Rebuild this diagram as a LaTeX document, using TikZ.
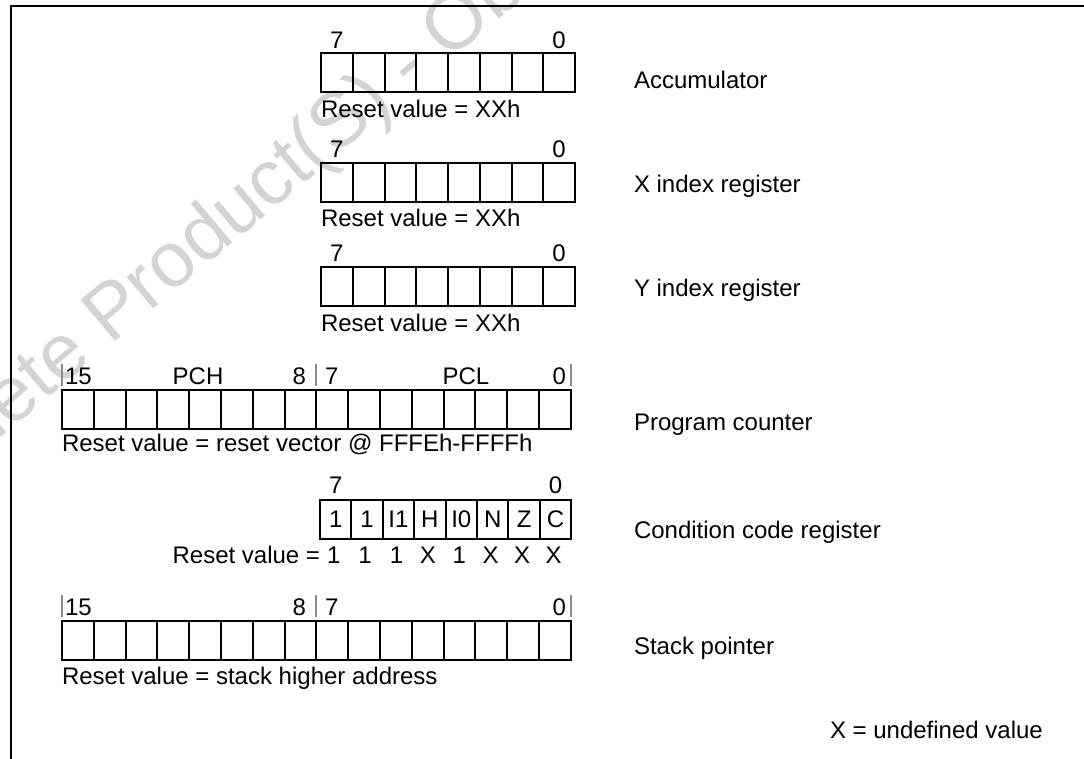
\documentclass[tikz,border=0pt]{standalone}
\usepackage{fontspec}
\setmainfont{Liberation Sans}
\usetikzlibrary{calc}
\tikzset{
  cell/.style={draw, line width=2pt, inner sep=0pt, outer sep=0pt, minimum height=39pt, anchor=north west, font=\fontsize{24}{28}\selectfont},
  txt/.style={inner sep=0pt, outer sep=0pt, font=\fontsize{24}{28}\selectfont},
  bitbar/.style={draw=black!45, line width=2pt},
  frameline/.style={line width=2pt},
  wm/.style={text=black!17, font=\fontsize{78}{94}\selectfont, rotate=40, anchor=base west, inner sep=0pt}
}
\newcommand\myreg[5]{%
  \foreach \i in {1,...,#2}{\node[cell, minimum width=#5pt] (#1\i) at ({#3+(\i-1)*#5}, #4) {};}%
}
\begin{document}
\begin{tikzpicture}[x=1pt,y=-1pt]
\useasboundingbox (0,0) rectangle (1084,758);
\clip (0,0) rectangle (1084,758);
% watermark
\node[wm] (wmark) at (110,346) {\llap{Obsolete }Product(S) - Obsolete Product(S)};
% frame
\draw[frameline] (11,770) -- (11,6) -- (1100,6);

% Accumulator
\myreg{acc}{8}{321}{53}{31.75}
\path (acc1.north) ++(0,-13) node[txt] (acchi) {7};
\path (acc8.north) ++(0,-13) node[txt] (acclo) {0};
\node[txt, anchor=west] (accrst) at (321,109) {Reset value = XXh};
\node[txt, anchor=west] (accname) at (634,80) {Accumulator};

% X index
\myreg{xr}{8}{321}{163}{31.75}
\path (xr1.north) ++(0,-14) node[txt] (xrhi) {7};
\path (xr8.north) ++(0,-14) node[txt] (xrlo) {0};
\node[txt, anchor=west] (xrrst) at (321,218) {Reset value = XXh};
\node[txt, anchor=west] (xrname) at (634,186) {X index register};

% Y index
\myreg{yr}{8}{321}{267}{31.75}
\path (yr1.north) ++(0,-14) node[txt] (yrhi) {7};
\path (yr8.north) ++(0,-14) node[txt] (yrlo) {0};
\node[txt, anchor=west] (yrrst) at (321,323) {Reset value = XXh};
\node[txt, anchor=west] (yrname) at (634,290) {Y index register};

% Program counter
\myreg{pc}{16}{62}{390}{31.8}
\draw[bitbar] (pc1.north west) ++(0,-4) -- ++(0,-22);
\draw[bitbar] (pc8.north east) ++(0,-4) -- ++(0,-22);
\draw[bitbar] (pc16.north east) ++(0,-4) -- ++(0,-22);
\node[txt, anchor=west] (pc15) at (65,376) {15};
\node[txt] (pch) at (198,376) {PCH};
\node[txt, anchor=east] (pc8l) at (306,376) {8};
\node[txt, anchor=west] (pc7l) at (325,376) {7};
\node[txt] (pcl) at (466,376) {PCL};
\node[txt, anchor=east] (pc0l) at (566,376) {0};
\node[txt, anchor=west] (pcrst) at (62,444) {Reset value = reset vector @ FFFEh-FFFFh};
\node[txt, anchor=west] (pcname) at (634,425) {Program counter};

% Condition code register
\foreach \t [count=\i] in {1,1,I1,H,I0,N,Z,C}{
  \node[cell, minimum width=31.4pt] (ccr\i) at ({320+(\i-1)*31.4}, 500) {\t};
}
\path (ccr1.north) ++(0,-15) node[txt] (ccrhi) {7};
\path (ccr8.north) ++(0,-15) node[txt] (ccrlo) {0};
\foreach \t [count=\i] in {1,1,1,X,1,X,X,X}{
  \path (ccr\i.south) ++(-2,16) node[txt] (ccrv\i) {\t};
}
\node[txt, anchor=east] (ccrrst) at (320,555) {Reset value =};
\node[txt, anchor=west] (ccrname) at (634,532) {Condition code register};

% Stack pointer
\myreg{sp}{16}{62}{621}{31.8}
\draw[bitbar] (sp1.north west) ++(0,-4) -- ++(0,-22);
\draw[bitbar] (sp8.north east) ++(0,-4) -- ++(0,-22);
\draw[bitbar] (sp16.north east) ++(0,-4) -- ++(0,-22);
\node[txt, anchor=west] (sp15) at (65,607) {15};
\node[txt, anchor=east] (sp8l) at (306,607) {8};
\node[txt, anchor=west] (sp7l) at (325,607) {7};
\node[txt, anchor=east] (sp0l) at (566,607) {0};
\node[txt, anchor=west] (sprst) at (62,678) {Reset value = stack higher address};
\node[txt, anchor=west] (spname) at (634,648) {Stack pointer};

% legend
\node[txt, anchor=west] (legend) at (830,730) {X = undefined value};
\end{tikzpicture}
\end{document}
